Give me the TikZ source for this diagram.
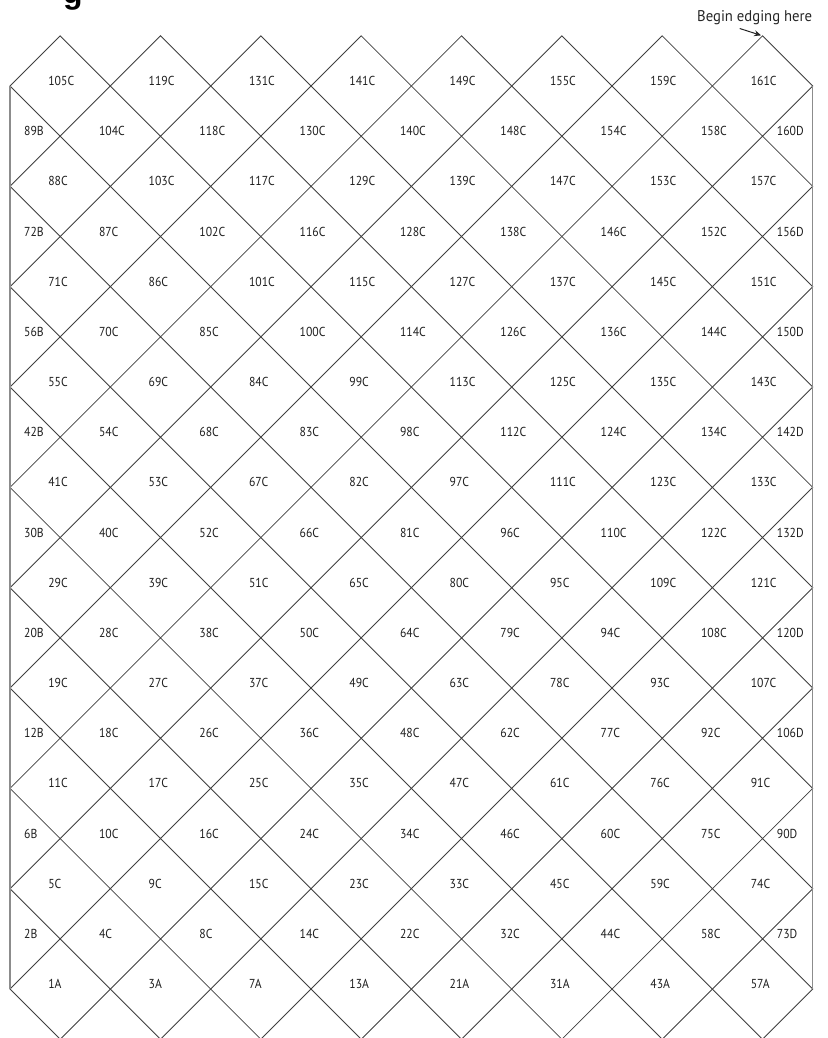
\documentclass[tikz,border=0pt]{standalone}
\usepackage{fontspec}
\newfontfamily\lblfont[FakeStretch=0.9]{PT Sans}
\newfontfamily\hdrfont[FakeStretch=0.95]{PT Sans}
\newfontfamily\ttlfont{Liberation Sans}
\usetikzlibrary{arrows.meta}
\begin{document}
\begin{tikzpicture}[x=1pt,y=-1pt,
  gridline/.style={draw=black!75, line width=0.85pt, line join=miter},
  sideline/.style={draw=black!45, line width=1.3pt},
  lbl/.style={font=\lblfont\fontsize{13}{13}\selectfont, text=black!88, inner sep=0pt, anchor=base west},
  hdr/.style={font=\hdrfont\fontsize{15.5}{15.5}\selectfont, text=black!85, inner sep=0pt, anchor=base west},
  ttl/.style={font=\ttlfont\bfseries\fontsize{32}{32}\selectfont, inner sep=0pt, anchor=base west},
  pointer/.style={draw=black!85, line width=1pt, -{Stealth[length=7pt,width=6pt]}, shorten >=1.5pt},
]
\useasboundingbox (0,0) rectangle (827,1038);
\fill[white] (0,0) rectangle (827,1038);
\def\h{50.17}
\def\xo{10}
\def\yo{86}
% full diamonds
\foreach \j in {0,...,9}{
  \foreach \i in {0,...,7}{
    \path[gridline] ({\xo+\h+2*\h*\i},{\yo+2*\h*\j-\h}) -- ++(\h,\h) -- ++(-\h,\h) -- ++(-\h,-\h) -- cycle;
  }
}
% side lines
\coordinate (tl) at (\xo,\yo);
\coordinate (bl) at (\xo,{\yo+18*\h});
\coordinate (tr) at ({\xo+16*\h},\yo);
\coordinate (br) at ({\xo+16*\h},{\yo+18*\h});
\draw[sideline] (tl) -- (bl);
\draw[sideline] (tr) -- (br);
% labels in full diamonds
\foreach \row [count=\j from 0] in {
  {105C,119C,131C,141C,149C,155C,159C,161C},
  {88C,103C,117C,129C,139C,147C,153C,157C},
  {71C,86C,101C,115C,127C,137C,145C,151C},
  {55C,69C,84C,99C,113C,125C,135C,143C},
  {41C,53C,67C,82C,97C,111C,123C,133C},
  {29C,39C,51C,65C,80C,95C,109C,121C},
  {19C,27C,37C,49C,63C,78C,93C,107C},
  {11C,17C,25C,35C,47C,61C,76C,91C},
  {5C,9C,15C,23C,33C,45C,59C,74C},
  {1A,3A,7A,13A,21A,31A,43A,57A}}{
  \foreach \t [count=\i from 0] in \row {
    \node[lbl] (f-\j-\i) at ({\xo+\h+2*\h*\i-12},{\yo+2*\h*\j-0.5}) {\t};
  }
}
% labels in half rows
\foreach \row [count=\j from 0] in {
  {89B,104C,118C,130C,140C,148C,154C,158C,160D},
  {72B,87C,102C,116C,128C,138C,146C,152C,156D},
  {56B,70C,85C,100C,114C,126C,136C,144C,150D},
  {42B,54C,68C,83C,98C,112C,124C,134C,142D},
  {30B,40C,52C,66C,81C,96C,110C,122C,132D},
  {20B,28C,38C,50C,64C,79C,94C,108C,120D},
  {12B,18C,26C,36C,48C,62C,77C,92C,106D},
  {6B,10C,16C,24C,34C,46C,60C,75C,90D},
  {2B,4C,8C,14C,22C,32C,44C,58C,73D}}{
  \foreach \t [count=\k from 0] in \row {
    \ifnum\k=0
      \node[lbl] (h-\j-\k) at ({\xo+14},{\yo+\h+2*\h*\j-0.5}) {\t};
    \else\ifnum\k=8
      \node[lbl] (h-\j-\k) at ({\xo+16*\h-36},{\yo+\h+2*\h*\j-0.5}) {\t};
    \else
      \node[lbl] (h-\j-\k) at ({\xo+2*\h*\k-11.5},{\yo+\h+2*\h*\j-0.5}) {\t};
    \fi\fi
  }
}
% header text and pointer
\coordinate (v161) at ({\xo+15*\h},{\yo-\h});
\node[hdr] (begin) at (697,22) {Begin edging here};
\draw[pointer] ([xshift=-15pt,yshift=-3pt]begin.south) -- (v161);
% cut-off title letter
\node[ttl] (title) at (63,4) {g};
\end{tikzpicture}
\end{document}
